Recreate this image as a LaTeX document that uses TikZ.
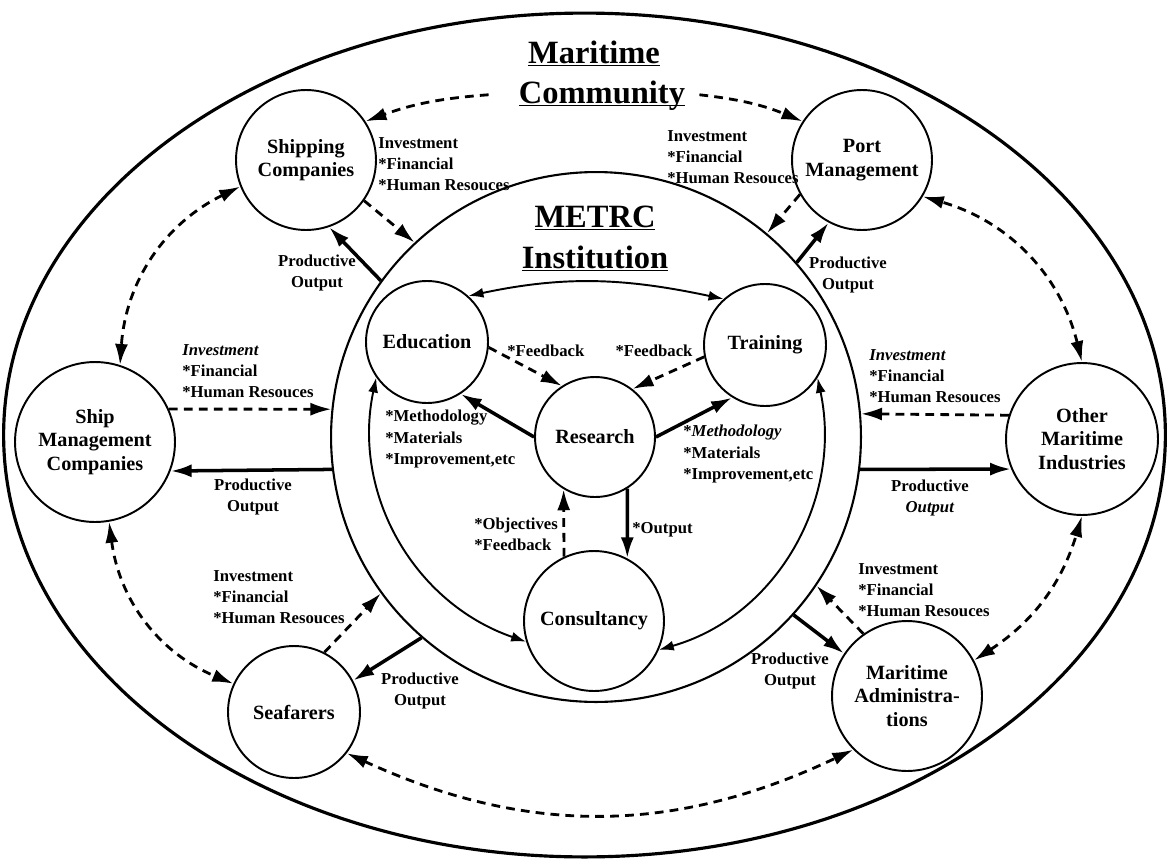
\documentclass[tikz,border=0pt]{standalone}
\usepackage{fontspec}
\setmainfont{Liberation Serif}
\usetikzlibrary{arrows.meta,shapes.geometric}

\newcommand{\headline}[1]{\underline{\smash{#1}}}

\begin{document}
\begin{tikzpicture}[x=0.02cm, y=-0.02cm,
	>={Latex[length=4.2mm,width=2.6mm]},
	party/.style={draw, circle, line width=1.1pt, align=center, inner sep=0pt, font=\bfseries\fontsize{11.5}{13.5}\selectfont},
	dashflow/.style={->, line width=1.6pt, dash pattern=on 5pt off 3.5pt},
	dashboth/.style={dashflow, <->},
	outflow/.style={->, line width=2pt},
	ringflow/.style={<->, >={Latex[length=3mm,width=2mm]}, line width=1.1pt},
	note/.style={inner sep=0pt, align=left, font=\bfseries\fontsize{9.5}{12}\selectfont},
	pout/.style={inner sep=0pt, align=center, font=\bfseries\fontsize{9.5}{12}\selectfont},
	heading/.style={inner sep=0pt, font=\bfseries\fontsize{18.5}{22}\selectfont}]
	\useasboundingbox (0,0) rectangle (1167,859);

	\node [draw, ellipse, line width=1.8pt, minimum width=23.24cm, minimum height=16.88cm, inner sep=0pt] (community) at (584.5,435) {};
	\node [draw, circle, line width=1.2pt, minimum size=10.6cm, inner sep=0pt] (metrc) at (596,437) {};

	\node [heading, anchor=base] (mtitle) at (594,63) {\headline{Maritime}};
	\node [heading, anchor=base] (ctitle) at (602,103) {\headline{Community}};
	\node [heading, anchor=base] (etitle) at (595,227) {\headline{METRC}};
	\node [heading, anchor=base] (ititle) at (595,268) {\headline{Institution}};

	\node [party, minimum size=2.8cm] (ship) at (306,160) {Shipping\\Companies};
	\node [party, minimum size=2.8cm] (port) at (862,160) {Port\\Management};
	\node [party, minimum size=3.2cm] (smc) at (95,442) {Ship\\Management\\Companies};
	\node [party, minimum size=3.04cm] (omi) at (1082,439) {Other\\Maritime\\Industries};
	\node [party, minimum size=2.64cm] (sea) at (294,712) {Seafarers};
	\node [party, minimum size=3cm] (ma) at (907,696) {Maritime\\Administra-\\tions};

	\node [party, minimum size=2.44cm] (edu) at (427,342) {Education};
	\node [party, minimum size=2.44cm] (trn) at (765,345) {Training};
	\node [party, minimum size=2.4cm] (res) at (595,437) {Research};
	\node [party, minimum size=2.8cm] (cons) at (594,621) {Consultancy};

	\draw [dashflow] ([xshift=-0.6cm,yshift=0.2cm]ctitle.west) to[bend right=8] (ship.33);
	\draw [dashflow] ([xshift=0.28cm,yshift=0.2cm]ctitle.east) to[bend left=8] (port.147);
	\draw [dashboth] (ship.202) to[bend right=30] (smc.72);
	\draw [dashboth] (smc.-80) to[bend right=30] (sea.155);
	\draw [dashboth] (sea.-38) to[bend right=25] (ma.225);
	\draw [dashboth] (ma.28) to[bend right=20] (omi.270);
	\draw [dashboth] (omi.90) to[bend right=30] (port.-31);

	\draw [dashflow] (ship.-35) -- (metrc.133);
	\draw [outflow] (metrc.144) -- (ship.-71);
	\draw [dashflow] (port.209) -- (metrc.50);
	\draw [outflow] (metrc.41) -- (port.242);
	\draw [dashflow] (smc.24) -- (metrc.174);
	\draw [outflow] (metrc.187) -- (smc.-21);
	\draw [dashflow] (omi.162) -- (metrc.5);
	\draw [outflow] (metrc.-7) -- (omi.203);
	\draw [dashflow] (sea.63) -- (metrc.216);
	\draw [outflow] (metrc.229) -- (sea.28);
	\draw [dashflow] (ma.125) -- (metrc.-34);
	\draw [outflow] (metrc.-42) -- (ma.146);

	\draw [ringflow] (edu.48) to[out=12, in=168] (trn.132);
	\draw [ringflow] (edu.215) to[out=258, in=161] (cons.197);
	\draw [ringflow] (trn.328) to[out=-78, in=16] (cons.336);

	\draw [dashflow] (edu.-5) -- (res.123);
	\draw [dashflow] (trn.191) -- (res.52);
	\draw [outflow] (res.180) -- (edu.-57);
	\draw [outflow] (res.0) -- (trn.238);
	\draw [outflow] (res.-58) -- (cons.62);
	\draw [dashflow] (cons.115) -- (res.239);

	\node [note, anchor=west] (shipinv) at (378,164) {Investment\\*Financial\\*Human Resouces};
	\node [pout] (shipout) at (317,273) {Productive\\Output};
	\node [note, anchor=west] (portinv) at (667,157) {Investment\\*Financial\\*Human Resouces};
	\node [pout] (portout) at (848,275) {Productive\\Output};
	\node [note, anchor=west] (smcinv) at (182,371) {\textit{Investment}\\*Financial\\*Human Resouces};
	\node [pout] (smcout) at (253,497) {Productive\\Output};
	\node [note, anchor=west] (omiinv) at (869,376) {\textit{Investment}\\*Financial\\*Human Resouces};
	\node [pout] (omiout) at (930,498) {Productive\\\textit{Output}};
	\node [note, anchor=west] (seainv) at (213,597) {Investment\\*Financial\\*Human Resouces};
	\node [pout] (seaout) at (420,691) {Productive\\Output};
	\node [note, anchor=west] (mainv) at (858,590) {Investment\\*Financial\\*Human Resouces};
	\node [pout] (maout) at (790,671) {Productive\\Output};

	\node [note, anchor=west] (edufb) at (507,351) {*Feedback};
	\node [note] (trnfb) at (654,351) {*Feedback};
	\node [note, anchor=west] (edumeth) at (385,439) {*Methodology\\*Materials\\*Improvement,etc};
	\node [note, anchor=west] (trnmeth) at (683,454) {*\textit{Methodology}\\*Materials\\*Improvement,etc};
	\node [note, anchor=west] (consout) at (632,530) {*Output};
	\node [note, anchor=west] (consobj) at (474,534) {*Objectives\\*Feedback};
\end{tikzpicture}
\end{document}
